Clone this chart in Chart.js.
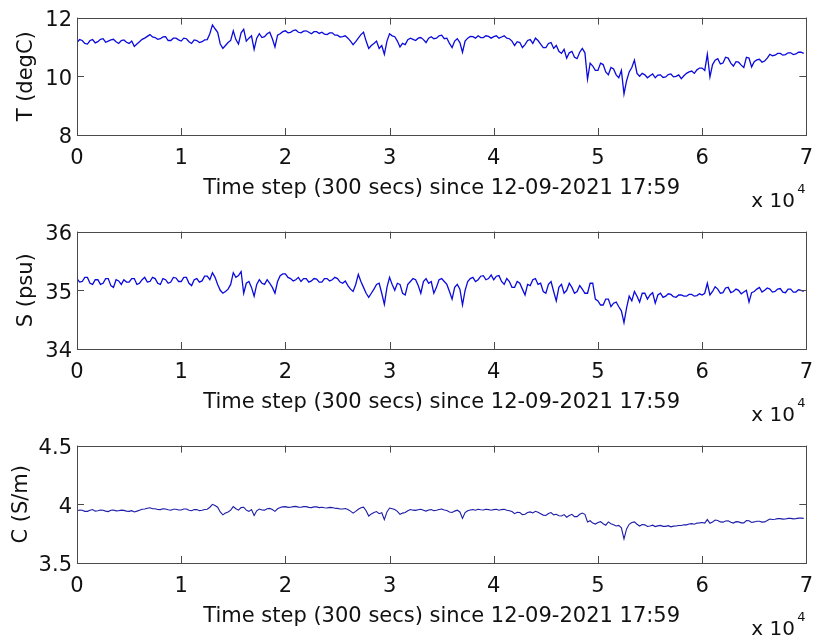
<!DOCTYPE html>
<html>
<head>
<meta charset="utf-8">
<script src="https://cdn.jsdelivr.net/npm/chart.js@4.4.0/dist/chart.umd.min.js"></script>
<style>
  html, body { margin: 0; padding: 0; background: #fff; overflow: hidden; }
  .panel { position: absolute; left: 0; width: 824px; height: 214px; }
</style>
</head>
<body>
<div class="panel" style="top:0px"><canvas id="chartT" width="824" height="214"></canvas></div>
<div class="panel" style="top:214px"><canvas id="chartS" width="824" height="214"></canvas></div>
<div class="panel" style="top:428px"><canvas id="chartC" width="824" height="214"></canvas></div>
<script>
// CTD record, one sample every 250 time steps (300 s each)
const stepStart = 0;
const stepSize = 250;
const xTicks = [0, 10000, 20000, 30000, 40000, 50000, 60000, 70000];

const tempTicks = [8, 10, 12];
const salTicks = [34, 35, 36];
const condTicks = [3.5, 4, 4.5];

const tempValues = [
  11.15, 11.25, 11.22, 11.12, 11.10, 11.22, 11.25, 11.14, 11.18, 11.26,
  11.28, 11.16, 11.20, 11.24, 11.26, 11.18, 11.12, 11.22, 11.24, 11.16,
  11.12, 11.20, 11.02, 11.10, 11.18, 11.26, 11.30, 11.36, 11.42, 11.34,
  11.32, 11.26, 11.28, 11.34, 11.35, 11.22, 11.22, 11.30, 11.30, 11.24,
  11.20, 11.30, 11.28, 11.18, 11.12, 11.24, 11.22, 11.15, 11.18, 11.24,
  11.25, 11.45, 11.75, 11.62, 11.50, 11.10, 10.95, 11.05, 11.15, 11.22,
  11.55, 11.25, 11.10, 11.48, 11.60, 11.20, 11.30, 11.38, 10.92, 11.30,
  11.45, 11.32, 11.35, 11.45, 11.50, 11.28, 11.00, 11.40, 11.45, 11.52,
  11.55, 11.48, 11.50, 11.56, 11.58, 11.50, 11.48, 11.54, 11.55, 11.50,
  11.45, 11.52, 11.52, 11.46, 11.50, 11.44, 11.42, 11.48, 11.48, 11.40,
  11.40, 11.34, 11.35, 11.38, 11.30, 11.20, 11.08, 11.18, 11.30, 11.42,
  11.50, 11.20, 10.95, 11.05, 11.12, 11.20, 10.95, 11.05, 10.75, 11.20,
  11.45, 11.38, 11.35, 11.20, 11.00, 11.12, 11.08, 11.25, 11.30, 11.26,
  11.22, 11.30, 11.32, 11.25, 11.15, 11.30, 11.35, 11.28, 11.30, 11.38,
  11.40, 11.28, 11.30, 11.12, 10.98, 11.20, 11.28, 11.15, 10.82, 11.20,
  11.30, 11.36, 11.35, 11.30, 11.38, 11.32, 11.32, 11.38, 11.36, 11.30,
  11.35, 11.38, 11.30, 11.34, 11.38, 11.30, 11.28, 11.20, 11.05, 11.18,
  11.15, 10.98, 11.08, 11.22, 11.25, 11.12, 11.30, 11.22, 11.10, 10.98,
  10.98, 11.12, 11.15, 10.95, 11.05, 10.85, 10.78, 10.92, 10.62, 10.80,
  10.85, 10.65, 10.60, 10.82, 10.95, 10.80, 9.90, 10.45, 10.35, 10.20,
  10.20, 10.45, 10.40, 10.15, 10.05, 10.30, 10.25, 10.05, 9.95, 10.20,
  9.40, 9.85, 10.15, 10.30, 10.55, 10.10, 10.00, 10.10, 10.05, 9.95,
  10.02, 10.08, 9.95, 10.04, 10.05, 9.96, 9.98, 10.06, 10.08, 9.98,
  10.00, 10.05, 9.92, 10.02, 10.10, 10.15, 10.18, 10.10, 10.22, 10.28,
  10.28, 10.20, 10.75, 9.98, 10.40, 10.55, 10.60, 10.42, 10.45, 10.65,
  10.62, 10.45, 10.35, 10.50, 10.48, 10.38, 10.30, 10.65, 10.62, 10.32,
  10.50, 10.56, 10.58, 10.48, 10.52, 10.62, 10.75, 10.70, 10.72, 10.78,
  10.78, 10.72, 10.74, 10.80, 10.80, 10.74, 10.76, 10.82, 10.82, 10.78
];

const salValues = [
  35.20, 35.14, 35.15, 35.22, 35.22, 35.12, 35.10, 35.18, 35.18, 35.10,
  35.12, 35.20, 35.20, 35.08, 35.05, 35.18, 35.16, 35.10, 35.18, 35.14,
  35.14, 35.20, 35.20, 35.10, 35.12, 35.18, 35.22, 35.14, 35.15, 35.22,
  35.20, 35.12, 35.10, 35.20, 35.18, 35.12, 35.14, 35.22, 35.21, 35.15,
  35.15, 35.22, 35.22, 35.12, 35.08, 35.18, 35.20, 35.14, 35.16, 35.24,
  35.24, 35.18, 35.30, 35.22, 35.10, 35.00, 34.95, 34.98, 35.02, 35.10,
  35.30, 35.22, 35.25, 35.32, 34.95, 35.12, 35.15, 35.05, 34.90, 35.10,
  35.18, 35.12, 35.10, 35.18, 35.12, 35.05, 34.95, 35.15, 35.25, 35.28,
  35.28, 35.22, 35.20, 35.16, 35.18, 35.22, 35.15, 35.20, 35.20, 35.14,
  35.16, 35.20, 35.19, 35.14, 35.14, 35.20, 35.20, 35.16, 35.18, 35.22,
  35.20, 35.14, 35.12, 35.16, 35.08, 35.02, 34.98, 35.10, 35.27, 35.15,
  35.05, 34.95, 34.88, 34.95, 35.02, 35.10, 35.12, 34.95, 34.76, 35.05,
  35.22, 35.10, 35.00, 35.12, 35.10, 34.95, 34.92, 35.10, 35.15, 35.20,
  35.18, 35.08, 34.95, 35.15, 35.20, 35.12, 35.15, 34.95, 35.05, 35.18,
  35.20, 35.15, 35.10, 34.98, 34.85, 35.05, 35.10, 35.02, 34.75, 35.00,
  35.15, 35.20, 35.22, 35.15, 35.18, 35.24, 35.25, 35.18, 35.20, 35.26,
  35.18, 35.24, 35.25, 35.15, 35.10, 35.20, 35.15, 35.05, 35.05, 35.15,
  35.12, 35.02, 34.92, 35.10, 35.08, 35.18, 35.20, 35.10, 35.12, 34.98,
  34.95, 35.10, 35.15, 34.98, 34.82, 35.05, 35.10, 34.95, 35.00, 35.12,
  35.05, 34.95, 34.98, 35.08, 35.02, 34.95, 34.95, 35.12, 35.12, 34.85,
  34.82, 34.75, 34.75, 34.85, 34.85, 34.72, 34.78, 34.80, 34.72, 34.65,
  34.45, 34.70, 34.90, 34.82, 34.98, 34.90, 34.80, 34.95, 34.95, 34.85,
  34.92, 34.96, 34.78, 34.92, 34.95, 34.88, 34.90, 34.94, 34.93, 34.89,
  34.88, 34.92, 34.92, 34.90, 34.90, 34.93, 34.93, 34.90, 34.91, 34.94,
  34.92, 34.95, 35.12, 34.92, 34.98, 35.06, 35.02, 34.95, 34.96, 35.04,
  35.05, 34.96, 34.98, 35.02, 35.00, 34.94, 34.97, 35.00, 34.80, 34.96,
  34.98, 35.02, 35.05, 34.97, 35.00, 35.04, 35.02, 34.97, 34.98, 35.02,
  35.03, 34.97, 34.96, 35.02, 35.02, 34.97, 34.97, 35.01, 35.00, 34.98
];

const condValues = [
  3.945, 3.952, 3.950, 3.940, 3.940, 3.950, 3.955, 3.942, 3.945, 3.952,
  3.950, 3.942, 3.938, 3.950, 3.952, 3.944, 3.945, 3.950, 3.948, 3.942,
  3.940, 3.946, 3.935, 3.942, 3.950, 3.958, 3.960, 3.966, 3.970, 3.962,
  3.962, 3.956, 3.955, 3.962, 3.960, 3.954, 3.950, 3.958, 3.958, 3.952,
  3.952, 3.960, 3.960, 3.950, 3.945, 3.955, 3.955, 3.946, 3.950, 3.956,
  3.958, 3.975, 4.000, 3.990, 3.975, 3.935, 3.910, 3.925, 3.935, 3.950,
  3.980, 3.962, 3.950, 3.972, 3.975, 3.950, 3.940, 3.955, 3.905, 3.945,
  3.960, 3.952, 3.950, 3.962, 3.965, 3.955, 3.940, 3.962, 3.972, 3.978,
  3.980, 3.974, 3.975, 3.980, 3.982, 3.976, 3.975, 3.980, 3.980, 3.974,
  3.972, 3.978, 3.978, 3.972, 3.975, 3.970, 3.968, 3.974, 3.972, 3.966,
  3.965, 3.960, 3.960, 3.964, 3.955, 3.942, 3.925, 3.940, 3.958, 3.970,
  3.975, 3.945, 3.900, 3.918, 3.930, 3.938, 3.920, 3.928, 3.870, 3.935,
  3.968, 3.962, 3.955, 3.940, 3.915, 3.925, 3.930, 3.945, 3.955, 3.950,
  3.948, 3.954, 3.958, 3.950, 3.942, 3.952, 3.955, 3.946, 3.950, 3.956,
  3.960, 3.952, 3.948, 3.935, 3.930, 3.942, 3.950, 3.935, 3.880, 3.930,
  3.945, 3.952, 3.955, 3.950, 3.958, 3.954, 3.952, 3.958, 3.955, 3.950,
  3.955, 3.958, 3.950, 3.955, 3.958, 3.950, 3.945, 3.938, 3.920, 3.932,
  3.930, 3.912, 3.915, 3.930, 3.935, 3.926, 3.940, 3.932, 3.920, 3.908,
  3.905, 3.922, 3.930, 3.910, 3.915, 3.902, 3.900, 3.912, 3.890, 3.905,
  3.915, 3.895, 3.895, 3.915, 3.925, 3.915, 3.850, 3.860, 3.840, 3.832,
  3.845, 3.852, 3.835, 3.822, 3.850, 3.835, 3.825, 3.815, 3.820, 3.800,
  3.705, 3.790, 3.830, 3.845, 3.850, 3.830, 3.815, 3.828, 3.825, 3.812,
  3.815, 3.822, 3.810, 3.816, 3.820, 3.812, 3.812, 3.818, 3.808, 3.814,
  3.815, 3.820, 3.820, 3.826, 3.825, 3.832, 3.835, 3.830, 3.840, 3.842,
  3.845, 3.840, 3.870, 3.838, 3.850, 3.866, 3.862, 3.850, 3.848, 3.858,
  3.860, 3.848, 3.840, 3.852, 3.850, 3.842, 3.842, 3.862, 3.860, 3.845,
  3.850, 3.856, 3.855, 3.848, 3.850, 3.862, 3.875, 3.870, 3.872, 3.878,
  3.878, 3.874, 3.875, 3.880, 3.880, 3.876, 3.878, 3.882, 3.882, 3.880
];

const FONT = '"DejaVu Sans", "Liberation Sans", Arial, sans-serif';
const TEXT = '#111111';
const AXIS = '#4a4a4a';

// box around the axes, inward ticks on all four sides, and the x10^4 multiplier
const matlabAxes = {
  id: 'matlabAxes',
  afterDraw(chart) {
    const { ctx, chartArea: a, scales } = chart;
    const len = 7;
    ctx.save();
    ctx.strokeStyle = AXIS;
    ctx.lineWidth = 1;
    ctx.beginPath();
    scales.x.ticks.forEach(t => {
      const px = Math.round(scales.x.getPixelForValue(t.value)) + 0.5;
      ctx.moveTo(px, a.top); ctx.lineTo(px, a.top + len);
      ctx.moveTo(px, a.bottom); ctx.lineTo(px, a.bottom - len);
    });
    scales.y.ticks.forEach(t => {
      const py = Math.round(scales.y.getPixelForValue(t.value)) + 0.5;
      ctx.moveTo(a.left, py); ctx.lineTo(a.left + len, py);
      ctx.moveTo(a.right, py); ctx.lineTo(a.right - len, py);
    });
    ctx.stroke();
    ctx.strokeRect(Math.round(a.left) + 0.5, Math.round(a.top) + 0.5,
      Math.round(a.right - a.left), Math.round(a.bottom - a.top));

    ctx.fillStyle = TEXT;
    ctx.textBaseline = 'alphabetic';
    ctx.textAlign = 'left';
    ctx.font = '20px ' + FONT;
    ctx.fillText('x 10', a.right - 55, a.bottom + 72);
    ctx.font = '13px ' + FONT;
    ctx.fillText('4', a.right - 9, a.bottom + 58);
    ctx.restore();
  }
};

function makeChart(canvasId, values, yTicks, yTitle, titlePad, color, width) {
  const ctx = document.getElementById(canvasId);
  const points = values.map((v, i) => ({ x: stepStart + i * stepSize, y: v }));

  return new Chart(ctx, {
    type: 'line',
    data: {
      datasets: [{
        data: points,
        borderColor: color,
        borderWidth: width,
        pointRadius: 0,
        tension: 0,
        fill: false
      }]
    },
    options: {
      responsive: false,
      animation: false,
      devicePixelRatio: 1,
      layout: { padding: { top: 16, right: 7, left: 0, bottom: 0 } },
      plugins: { legend: { display: false }, tooltip: { enabled: false } },
      scales: {
        x: {
          type: 'linear',
          min: xTicks[0],
          max: xTicks[xTicks.length - 1],
          afterBuildTicks: s => { s.ticks = xTicks.map(v => ({ value: v })); },
          afterFit: s => { s.height = 79; },
          grid: { display: false, drawTicks: false },
          border: { display: false },
          ticks: {
            padding: 11,
            color: TEXT,
            font: { family: FONT, size: 21 },
            callback: v => String(v / 10000),
            maxRotation: 0
          },
          title: {
            display: true,
            text: 'Time step (300 secs) since 12-09-2021 17:59',
            color: TEXT,
            font: { family: FONT, size: 21 },
            padding: { top: 0, bottom: 13 }
          }
        },
        y: {
          min: yTicks[0],
          max: yTicks[yTicks.length - 1],
          afterBuildTicks: s => { s.ticks = yTicks.map(v => ({ value: v })); },
          afterFit: s => { s.width = 77; },
          grid: { display: false, drawTicks: false },
          border: { display: false },
          ticks: {
            padding: 5,
            labelOffset: 3,
            color: TEXT,
            font: { family: FONT, size: 21 },
            callback: v => String(v)
          },
          title: {
            display: true,
            text: yTitle,
            color: TEXT,
            font: { family: FONT, size: 21 },
            padding: { top: titlePad, bottom: 0 }
          }
        }
      }
    },
    plugins: [matlabAxes]
  });
}

makeChart('chartT', tempValues, tempTicks, 'T (degC)', 14, '#0a0adc', 1.3);
makeChart('chartS', salValues, salTicks, 'S (psu)', 14, '#0a0adc', 1.3);
makeChart('chartC', condValues, condTicks, 'C (S/m)', 9, '#1c1ca8', 1.1);
</script>
</body>
</html>
